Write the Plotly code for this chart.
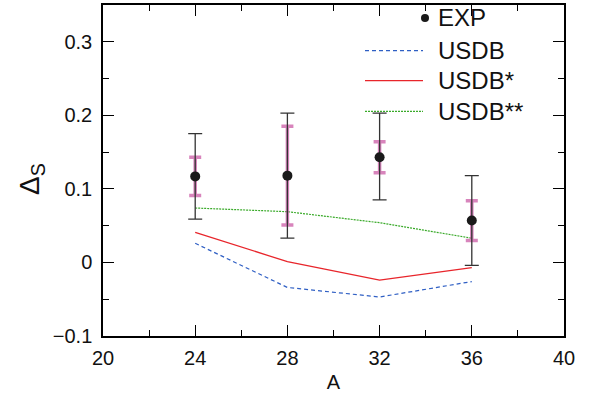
import plotly.graph_objects as go

A = [24, 28, 32, 36]
exp_val = [0.117, 0.118, 0.143, 0.057]
exp_err_hi = [0.058, 0.085, 0.060, 0.061]   # outer (black) upper
exp_err_lo = [0.058, 0.085, 0.058, 0.061]   # outer (black) lower
exp_in_hi = [0.026, 0.067, 0.021, 0.027]    # inner (pink) upper
exp_in_lo = [0.026, 0.067, 0.021, 0.027]    # inner (pink) lower
usdb = [0.026, -0.034, -0.047, -0.026]
usdb_s = [0.041, 0.001, -0.024, -0.007]
usdb_ss = [0.074, 0.069, 0.054, 0.033]

x_ticks = [20, 24, 28, 32, 36, 40]
y_ticks = [-0.1, 0, 0.1, 0.2, 0.3]
y_tick_text = ["\u22120.1", "0", "0.1", "0.2", "0.3"]

font = "Liberation Sans, Arial, sans-serif"
blue_line = dict(color="#2f5fc4", width=1.2, dash="4px,3px")
red_line = dict(color="#e8252b", width=1.3)
green_line = dict(color="#3aaa2a", width=1.2, dash="2px,1px")

fig = go.Figure()

fig.add_trace(go.Scatter(x=A, y=usdb, mode="lines", line=blue_line, name="USDB"))
fig.add_trace(go.Scatter(x=A, y=usdb_s, mode="lines", line=red_line, name="USDB*"))
fig.add_trace(go.Scatter(x=A, y=usdb_ss, mode="lines", line=green_line, name="USDB**"))
# inner pink error bars
fig.add_trace(go.Scatter(x=A, y=exp_val, mode="markers", marker=dict(size=1, color="rgba(0,0,0,0)"),
                         error_y=dict(type="data", symmetric=False, array=exp_in_hi, arrayminus=exp_in_lo,
                                      color="rgba(200,80,160,0.7)", thickness=3.5, width=6),
                         showlegend=False))
# outer black error bars + points
fig.add_trace(go.Scatter(x=A, y=exp_val, mode="markers",
                         marker=dict(size=10, color="#1a1a1a"),
                         error_y=dict(type="data", symmetric=False, array=exp_err_hi, arrayminus=exp_err_lo,
                                      color="#333333", thickness=1.3, width=7),
                         name="EXP"))

# manual legend (paper coordinates)
def px2paper(px, py):
    return (px - 103) / 461, (336 - py) / 333

items = [("EXP", None), ("USDB", blue_line), ("USDB*", red_line), ("USDB**", green_line)]
ys = [16, 49, 79, 110]
for (label, ln), py in zip(items, ys):
    tx, ty = px2paper(436, py)
    fig.add_annotation(x=tx, y=ty, xref="paper", yref="paper", text=label, showarrow=False,
                       xanchor="left", yanchor="middle", font=dict(size=24, color="#111", family=font))
    if ln is None:
        cx, cy = px2paper(425, py)
        fig.add_trace(go.Scatter(x=[cx], y=[cy], xaxis="x2", yaxis="y2", mode="markers",
                                 marker=dict(size=8, color="#1a1a1a"), showlegend=False, hoverinfo="skip"))
    else:
        x0, y0 = px2paper(365, py)
        x1, _ = px2paper(423, py)
        fig.add_shape(type="line", xref="paper", yref="paper", x0=x0, x1=x1, y0=y0, y1=y0, line=ln)

# y-axis title as rotated annotation
ax, ay = px2paper(32, 178)
fig.add_annotation(x=ax, y=ay, xref="paper", yref="paper", text="\u0394<sub>S</sub>", showarrow=False,
                   textangle=-90, xanchor="center", yanchor="middle",
                   font=dict(size=28, color="#111", family=font))

axis_common = dict(showline=True, linecolor="black", linewidth=1.5, mirror="ticks",
                   ticks="inside", tickcolor="black", tickwidth=1.2, ticklen=11,
                   showgrid=False, zeroline=False,
                   tickfont=dict(size=20, color="#111", family=font))

fig.update_layout(
    width=591, height=404,
    margin=dict(l=103, r=27, t=3, b=68),
    paper_bgcolor="white", plot_bgcolor="white",
    showlegend=False,
    xaxis=dict(range=[20, 40], tickvals=x_ticks,
               minor=dict(ticks="inside", dtick=2, tick0=20, ticklen=6, tickcolor="black", tickwidth=1),
               title=dict(text="A", font=dict(size=20, color="#111", family=font), standoff=7),
               ticklabelstandoff=3, **axis_common),
    yaxis=dict(range=[-0.1, 0.35], tickvals=y_ticks, ticktext=y_tick_text,
               minor=dict(ticks="inside", dtick=0.05, tick0=0, ticklen=6, tickcolor="black", tickwidth=1),
               ticklabelstandoff=5, **axis_common),
    xaxis2=dict(range=[0, 1], visible=False, overlaying="x"),
    yaxis2=dict(range=[0, 1], visible=False, overlaying="y"),
)

fig.write_html("out.html", post_script="document.body.style.margin='0px';",
               config={"displayModeBar": False})
